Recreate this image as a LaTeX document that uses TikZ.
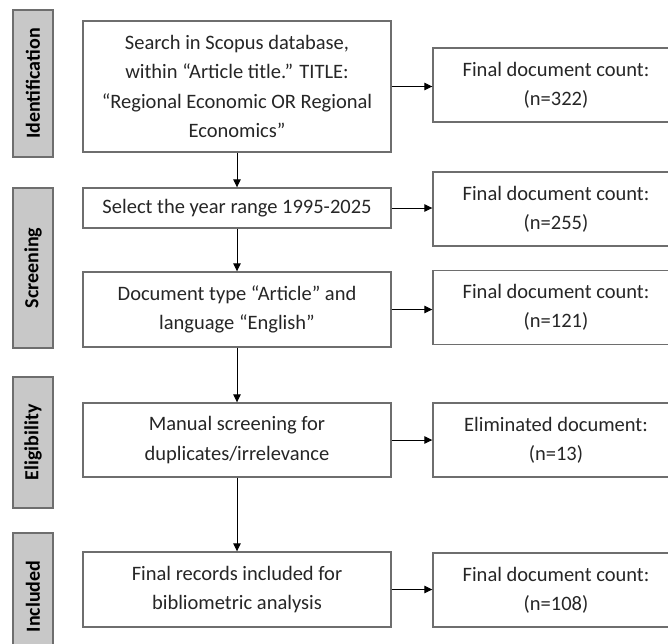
\documentclass[tikz,border=0pt]{standalone}
\usepackage{fontspec}
\setmainfont{Carlito}
\usetikzlibrary{arrows.meta}
\definecolor{boxline}{HTML}{6E6E6E}
\definecolor{sidefill}{HTML}{C8C8C8}
\definecolor{txt}{HTML}{262626}
\tikzset{
  mainbox/.style={draw=boxline, line width=1.4pt, fill=white, minimum width=308pt, inner sep=0pt, align=center, text=txt, font=\fontsize{20.5}{29.5}\selectfont},
  resbox/.style={draw=boxline, line width=1.4pt, fill=white, minimum width=246pt, minimum height=74pt, inner sep=0pt, align=center, text=txt, font=\fontsize{20.5}{29}\selectfont},
  sidebox/.style={draw=boxline, line width=1.4pt, fill=sidefill, rotate=90, minimum height=40pt, inner sep=0pt, text=black, font=\fontsize{20}{24}\selectfont\bfseries},
  arr/.style={draw=black, line width=0.9pt, -{Triangle[length=8pt,width=7.5pt]}}
}
\begin{document}
\begin{tikzpicture}[x=1pt,y=-1pt]
\useasboundingbox (0,0) rectangle (668,643);
\clip (0,0) rectangle (668,643);
\fill[white] (0,0) rectangle (668,643);
% side labels
\node[sidebox, minimum width=147pt] (s1) at (33,83.5) {Identification};
\node[sidebox, minimum width=160pt] (s2) at (33,268) {Screening};
\node[sidebox, minimum width=131pt] (s3) at (33,442.5) {Eligibility};
\node[sidebox, minimum width=127pt] (s4) at (33,596.5) {Included};
% main boxes
\node[mainbox, minimum height=131pt] (m1) at (237,86.5) {Search in Scopus database,\\within “Article title.” TITLE:\\“Regional Economic OR Regional\\Economics”};
\node[mainbox, minimum height=40pt] (m2) at (237,208) {Select the year range 1995-2025};
\node[mainbox, minimum height=75pt] (m3) at (237,309.5) {Document type “Article” and\\language “English”};
\node[mainbox, minimum height=74pt] (m4) at (237,440) {Manual screening for\\duplicates/irrelevance};
\node[mainbox, minimum height=75pt] (m5) at (237,589.5) {Final records included for\\bibliometric analysis};
% result boxes
\node[resbox] (r1) at (556,85) {Final document count:\\(n=322)};
\node[resbox] (r2) at (556,209) {Final document count:\\(n=255)};
\node[resbox] (r3) at (556,307.5) {Final document count:\\(n=121)};
\node[resbox] (r4) at (556,440) {Eliminated document:\\(n=13)};
\node[resbox] (r5) at (556,590) {Final document count:\\(n=108)};
% vertical arrows
\draw[arr] (m1.south) -- (m2.north);
\draw[arr] (m2.south) -- (m3.north);
\draw[arr] (m3.south) -- (m4.north);
\draw[arr] (m4.south) -- (m5.north);
% horizontal arrows
\draw[arr] (m1.east) -- (m1.east -| r1.west);
\draw[arr] (m2.east) -- (m2.east -| r2.west);
\draw[arr] (m3.east) -- (m3.east -| r3.west);
\draw[arr] (m4.east) -- (m4.east -| r4.west);
\draw[arr] (m5.east) -- (m5.east -| r5.west);
\end{tikzpicture}
\end{document}
